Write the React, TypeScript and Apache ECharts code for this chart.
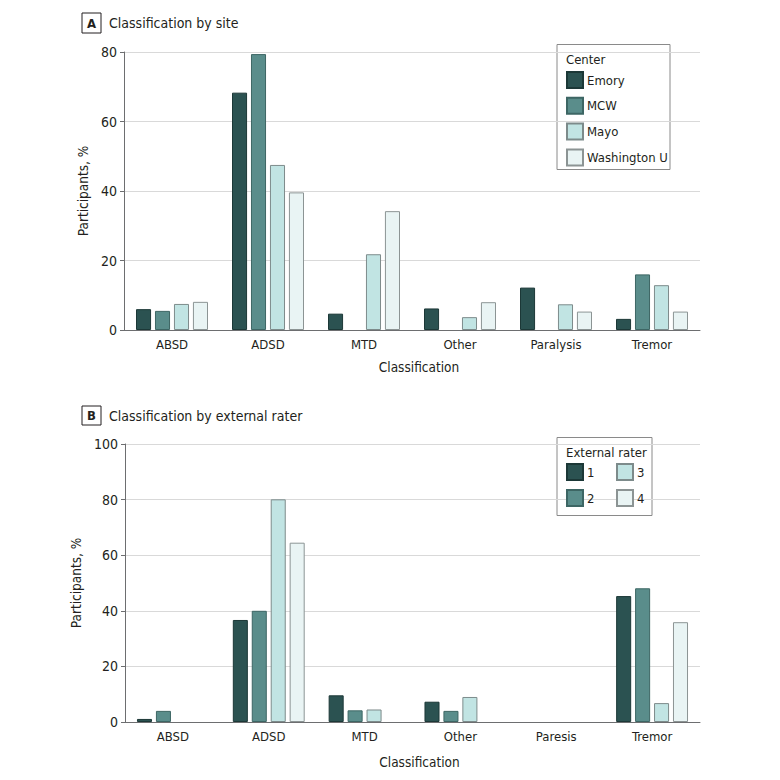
import React, { useEffect, useRef } from "react";
import * as echarts from "echarts";

const categoriesA = ["ABSD", "ADSD", "MTD", "Other", "Paralysis", "Tremor"];
const categoriesB = ["ABSD", "ADSD", "MTD", "Other", "Paresis", "Tremor"];

const centerNames = ["Emory", "MCW", "Mayo", "Washington U"];
const emory = [6.0, 68.3, 4.7, 6.2, 12.2, 3.2];
const mcw = [5.5, 79.4, 0, 0, 0, 16.0];
const mayo = [7.5, 47.5, 21.8, 3.7, 7.4, 12.9];
const washU = [8.1, 39.6, 34.2, 8.0, 5.3, 5.3];

const raterNames = ["1", "2", "3", "4"];
const rater1 = [1.1, 36.7, 9.6, 7.3, 0, 45.3];
const rater2 = [4.0, 40.0, 4.2, 4.0, 0, 48.1];
const rater3 = [0, 80.1, 4.5, 9.0, 0, 6.8];
const rater4 = [0, 64.5, 0, 0, 0, 35.9];

const yTicksA = { min: 0, max: 80, interval: 20 };
const yTicksB = { min: 0, max: 100, interval: 20 };

const FILLS = ["#2b5251", "#5a8d8b", "#c1e4e3", "#e9f4f4"];
const BORDERS = ["#1c3837", "#3d6664", "#7d8b8b", "#8c9494"];
const FONT = "'Liberation Sans Narrow', 'DejaVu Sans Condensed', 'Open Sans', sans-serif";
const TEXT = "#231f20";

export default function App() {
  const ref = useRef<HTMLDivElement>(null);
  useEffect(() => {
    document.body.style.margin = "0";
    const chart = echarts.init(ref.current!, null, { renderer: "svg" });
    const mk = (name: string, data: number[], i: number, axis: number) => ({
      name,
      type: "bar",
      xAxisIndex: axis,
      yAxisIndex: axis,
      barCategoryGap: "25%",
      barGap: "26%",
      data: data.map((v) => (v === 0 ? "-" : v)),
      itemStyle: { color: FILLS[i], borderColor: BORDERS[i], borderWidth: 1 },
    });
    const seriesA = [emory, mcw, mayo, washU].map((d, i) => mk(centerNames[i], d, i, 0));
    const seriesB = [rater1, rater2, rater3, rater4].map((d, i) => mk(raterNames[i], d, i, 1));

    const xAxisCommon = {
      type: "category",
      axisTick: { show: false },
      axisLine: { lineStyle: { color: "#6d6e70", width: 1 } },
      axisLabel: { color: TEXT, fontSize: 13, fontFamily: FONT, margin: 8 },
      name: "Classification",
      nameLocation: "middle",
      nameGap: 30,
      nameTextStyle: { color: TEXT, fontSize: 13.5, fontFamily: FONT, padding: [0, 0, 0, 14] },
    };
    const yAxisCommon = {
      type: "value",
      axisLine: { show: true, lineStyle: { color: "#6d6e70", width: 1 } },
      axisTick: { show: true, length: 4, lineStyle: { color: "#6d6e70" } },
      splitLine: { lineStyle: { color: "#d9d9d9", width: 1 } },
      axisLabel: { color: TEXT, fontSize: 14, fontFamily: FONT, margin: 7 },
      name: "Participants, %",
      nameLocation: "middle",
      nameTextStyle: { color: TEXT, fontSize: 13.5, fontFamily: FONT },
    };
    const legendCommon = {
      orient: "vertical",
      itemWidth: 16,
      itemHeight: 16,
      icon: "rect",
      textStyle: { color: TEXT, fontSize: 13, fontFamily: FONT, padding: [0, 0, 0, -1] },
      selectedMode: false,
      padding: 0,
    };

    chart.setOption({
      animation: false,
      textStyle: { fontFamily: FONT },
      grid: [
        { left: 124, right: 80, top: 52, height: 278 },
        { left: 125, right: 80, top: 444, height: 278 },
      ],
      xAxis: [
        { ...xAxisCommon, gridIndex: 0, data: categoriesA },
        { ...xAxisCommon, gridIndex: 1, data: categoriesB, nameGap: 33 },
      ],
      yAxis: [
        { ...yAxisCommon, gridIndex: 0, ...yTicksA, nameGap: 18 },
        { ...yAxisCommon, gridIndex: 1, ...yTicksB, nameGap: 23 },
      ],
      legend: [
        { ...legendCommon, data: centerNames, left: 566, top: 71, itemGap: 7.8 },
        { ...legendCommon, data: raterNames.slice(0, 2), left: 566, top: 463, itemGap: 8 },
        { ...legendCommon, data: raterNames.slice(2, 4), left: 616, top: 463, itemGap: 8 },
      ],
      graphic: [
        { type: "rect", shape: { x: 82, y: 13, width: 19, height: 20 }, style: { fill: "#fff", stroke: TEXT, lineWidth: 1 } },
        { type: "text", x: 91.5, y: 23, style: { text: "A", fill: TEXT, font: `bold 13px ${FONT}`, align: "center", verticalAlign: "middle" } },
        { type: "text", x: 109, y: 23, style: { text: "Classification by site", fill: TEXT, font: `14px ${FONT}`, verticalAlign: "middle" } },
        { type: "rect", shape: { x: 82, y: 406, width: 19, height: 19 }, style: { fill: "#fff", stroke: TEXT, lineWidth: 1 } },
        { type: "text", x: 91.5, y: 415.5, style: { text: "B", fill: TEXT, font: `bold 13px ${FONT}`, align: "center", verticalAlign: "middle" } },
        { type: "text", x: 109, y: 415.5, style: { text: "Classification by external rater", fill: TEXT, font: `14px ${FONT}`, verticalAlign: "middle" } },
        { type: "rect", z: 0, shape: { x: 557, y: 44.5, width: 113, height: 125 }, style: { fill: "#fff", stroke: "#8a8a8a", lineWidth: 1 } },
        { type: "text", x: 566, y: 59, style: { text: "Center", fill: TEXT, font: `13px ${FONT}`, verticalAlign: "middle" } },
        { type: "rect", z: 0, shape: { x: 557, y: 437.5, width: 95, height: 78 }, style: { fill: "#fff", stroke: "#8a8a8a", lineWidth: 1 } },
        { type: "text", x: 566, y: 452, style: { text: "External rater", fill: TEXT, font: `13px ${FONT}`, verticalAlign: "middle" } },
      ],
      series: [...seriesA, ...seriesB],
    });
    return () => chart.dispose();
  }, []);
  return <div ref={ref} style={{ width: 780, height: 780 }} />;
}
